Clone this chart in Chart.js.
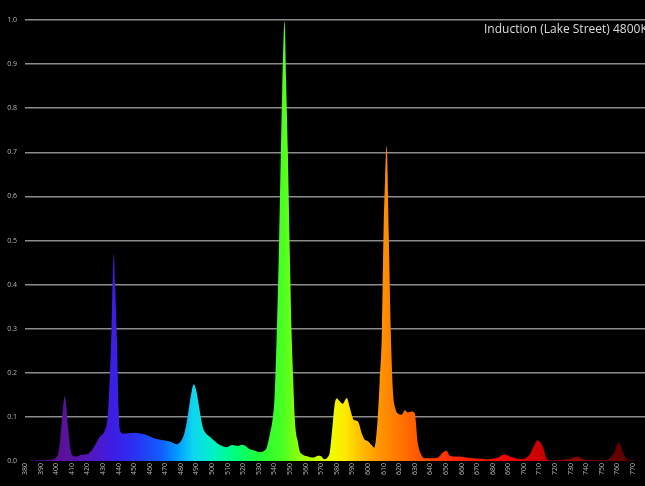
<!DOCTYPE html>
<html>
<head>
<meta charset="utf-8">
<script src="https://cdn.jsdelivr.net/npm/chart.js@4/dist/chart.umd.min.js"></script>
<style>
  html, body { margin: 0; padding: 0; background: #000; overflow: hidden; }
  #wrap { position: relative; width: 645px; height: 486px; overflow: hidden; }
  #title {
    position: absolute; left: 484px; top: 20px; white-space: nowrap;
    font: 12px "Open Sans", "Noto Sans", sans-serif; color: #dcdcdc;
  }
</style>
</head>
<body>
<div id="wrap">
  <canvas id="spd" width="645" height="486"></canvas>
  <div id="title">Induction (Lake Street) 4800K</div>
</div>
<script>
// Spectral power distribution, relative intensity (0..1) by wavelength in nm
const wavelengths = [
  380, 390, 396, 400, 402, 403.5, 405.5, 407.8, 409, 410.5, 413, 416, 420, 423, 426, 428, 431,
  433, 434.5, 435.5, 436.3, 437, 437.8, 439, 440, 441, 443, 446, 450, 453, 457, 462, 467, 473,
  477, 480, 482, 484, 486, 487, 488.3, 489.5, 491, 492.5, 494, 496, 498.6, 502, 505, 509.5, 513,
  516.5, 519, 521, 524, 527, 530.6, 533, 535, 537, 539, 540, 541.5, 543, 544, 545, 546.5, 547.5,
  548.6, 550, 551, 552, 553, 554, 555, 556, 558, 561, 565, 568, 570, 572, 574.5, 575.5, 577.4,
  578.7, 580, 582, 583.8, 586.4, 588.3, 590, 591, 593.5, 596, 598, 600, 602.4, 604, 606, 607.5,
  609, 610, 611, 612, 613.3, 614.6, 616, 617.5, 619, 621.7, 623.6, 625.5, 628, 630, 632, 634.5,
  637, 640, 645, 648, 650.5, 652.4, 657, 663, 667, 676, 682.6, 687.7, 692, 698.6, 703.7, 706,
  708.8, 712, 715, 718.5, 725, 730, 734.5, 739, 745, 753, 756, 758, 760.8, 764.6, 767.8, 777.7
];
const intensity = [
  0, 0.002, 0.003, 0.008, 0.03, 0.085, 0.147, 0.07, 0.03, 0.012, 0.01, 0.014, 0.016, 0.025, 0.043, 0.055, 0.068,
  0.1, 0.2, 0.3, 0.42, 0.47, 0.4, 0.27, 0.12, 0.068, 0.062, 0.063, 0.064, 0.063, 0.06, 0.053, 0.048, 0.044,
  0.038, 0.045, 0.06, 0.093, 0.14, 0.16, 0.174, 0.165, 0.138, 0.105, 0.077, 0.063, 0.055, 0.044, 0.036, 0.031, 0.036,
  0.034, 0.037, 0.035, 0.027, 0.024, 0.02, 0.022, 0.03, 0.06, 0.1, 0.14, 0.29, 0.5, 0.68, 0.84, 0.998, 0.86,
  0.7, 0.45, 0.29, 0.19, 0.1, 0.06, 0.045, 0.025, 0.015, 0.011, 0.008, 0.012, 0.011, 0.004, 0.01, 0.02, 0.085,
  0.13, 0.142, 0.135, 0.13, 0.143, 0.122, 0.1, 0.093, 0.09, 0.063, 0.048, 0.045, 0.036, 0.03, 0.085, 0.18,
  0.3, 0.52, 0.64, 0.715, 0.52, 0.3, 0.16, 0.12, 0.108, 0.105, 0.115, 0.11, 0.112, 0.108, 0.04, 0.012,
  0.006, 0.006, 0.008, 0.019, 0.023, 0.012, 0.01, 0.008, 0.006, 0.004, 0.007, 0.015, 0.009, 0.004, 0.014, 0.03,
  0.047, 0.034, 0.004, 0.001, 0.003, 0.005, 0.01, 0.003, 0.002, 0.002, 0.01, 0.02, 0.042, 0.012, 0.002, 0
];
const wavelengthTicks = [
  380, 390, 400, 410, 420, 430, 440, 450, 460, 470, 480, 490, 500, 510, 520, 530, 540, 550, 560, 570,
  580, 590, 600, 610, 620, 630, 640, 650, 660, 670, 680, 690, 700, 710, 720, 730, 740, 750, 760, 770
];
const intensityTicks = [0, 0.1, 0.2, 0.3, 0.4, 0.5, 0.6, 0.7, 0.8, 0.9, 1.0];

// Approximate visible-light colour for each wavelength, used for the fill
const spectrumStops = [
  [380, '#3a0858'], [400, '#5a1090'], [420, '#5516b8'], [437, '#3c1ee6'], [450, '#2a30f2'],
  [468, '#1060ff'], [480, '#00a8ff'], [488, '#10d6ee'], [500, '#00f0c8'], [515, '#00ff7a'],
  [530, '#20ff38'], [545, '#48ff22'], [560, '#a8ff00'], [575, '#eaff00'], [585, '#ffea00'],
  [595, '#ffc000'], [605, '#ff9c00'], [612, '#ff8a00'], [625, '#ff6a00'], [640, '#ff4200'],
  [660, '#ff2200'], [690, '#ee0500'], [710, '#cc0000'], [730, '#900000'], [760, '#640000'], [778, '#400000']
];

const points = wavelengths.map((w, i) => ({ x: w, y: intensity[i] }));

function spectrumFill(ctx) {
  const chart = ctx.chart;
  const area = chart.chartArea;
  if (!area) return '#00ff00';
  const xs = chart.scales.x;
  const x0 = xs.getPixelForValue(380);
  const x1 = xs.getPixelForValue(778);
  const g = chart.ctx.createLinearGradient(x0, 0, x1, 0);
  spectrumStops.forEach(([w, c]) => {
    g.addColorStop(Math.min(1, Math.max(0, (w - 380) / (778 - 380))), c);
  });
  return g;
}

new Chart(document.getElementById('spd'), {
  type: 'line',
  data: {
    datasets: [{
      data: points,
      fill: 'origin',
      backgroundColor: spectrumFill,
      borderWidth: 0,
      pointRadius: 0,
      cubicInterpolationMode: 'monotone'
    }]
  },
  options: {
    responsive: false,
    animation: false,
    events: [],
    layout: { padding: { top: 20, right: 0, left: 0, bottom: 0 } },
    plugins: { legend: { display: false }, tooltip: { enabled: false }, title: { display: false } },
    scales: {
      x: {
        type: 'linear',
        min: 380,
        max: 777.7,
        afterBuildTicks: s => { s.ticks = wavelengthTicks.map(v => ({ value: v })); },
        afterFit: s => { s.height = 25; },
        grid: { display: false, drawTicks: false },
        border: { display: false },
        ticks: {
          autoSkip: false,
          minRotation: 90,
          maxRotation: 90,
          padding: 2,
          color: '#b4b4b4',
          font: { family: 'Open Sans', size: 7 },
          callback: v => String(v)
        }
      },
      y: {
        min: 0,
        max: 1,
        afterBuildTicks: s => { s.ticks = intensityTicks.map(v => ({ value: v })); },
        afterFit: s => { s.width = 25; },
        grid: {
          drawTicks: false,
          color: ctx => ctx.tick && ctx.tick.value === 0 ? 'rgba(0,0,0,0)' : '#8c8c8c',
          lineWidth: 1.6
        },
        border: { display: false },
        ticks: {
          padding: 8,
          color: '#b4b4b4',
          font: { family: 'Open Sans', size: 7 },
          callback: v => v.toFixed(1)
        }
      }
    }
  }
});
</script>
</body>
</html>
